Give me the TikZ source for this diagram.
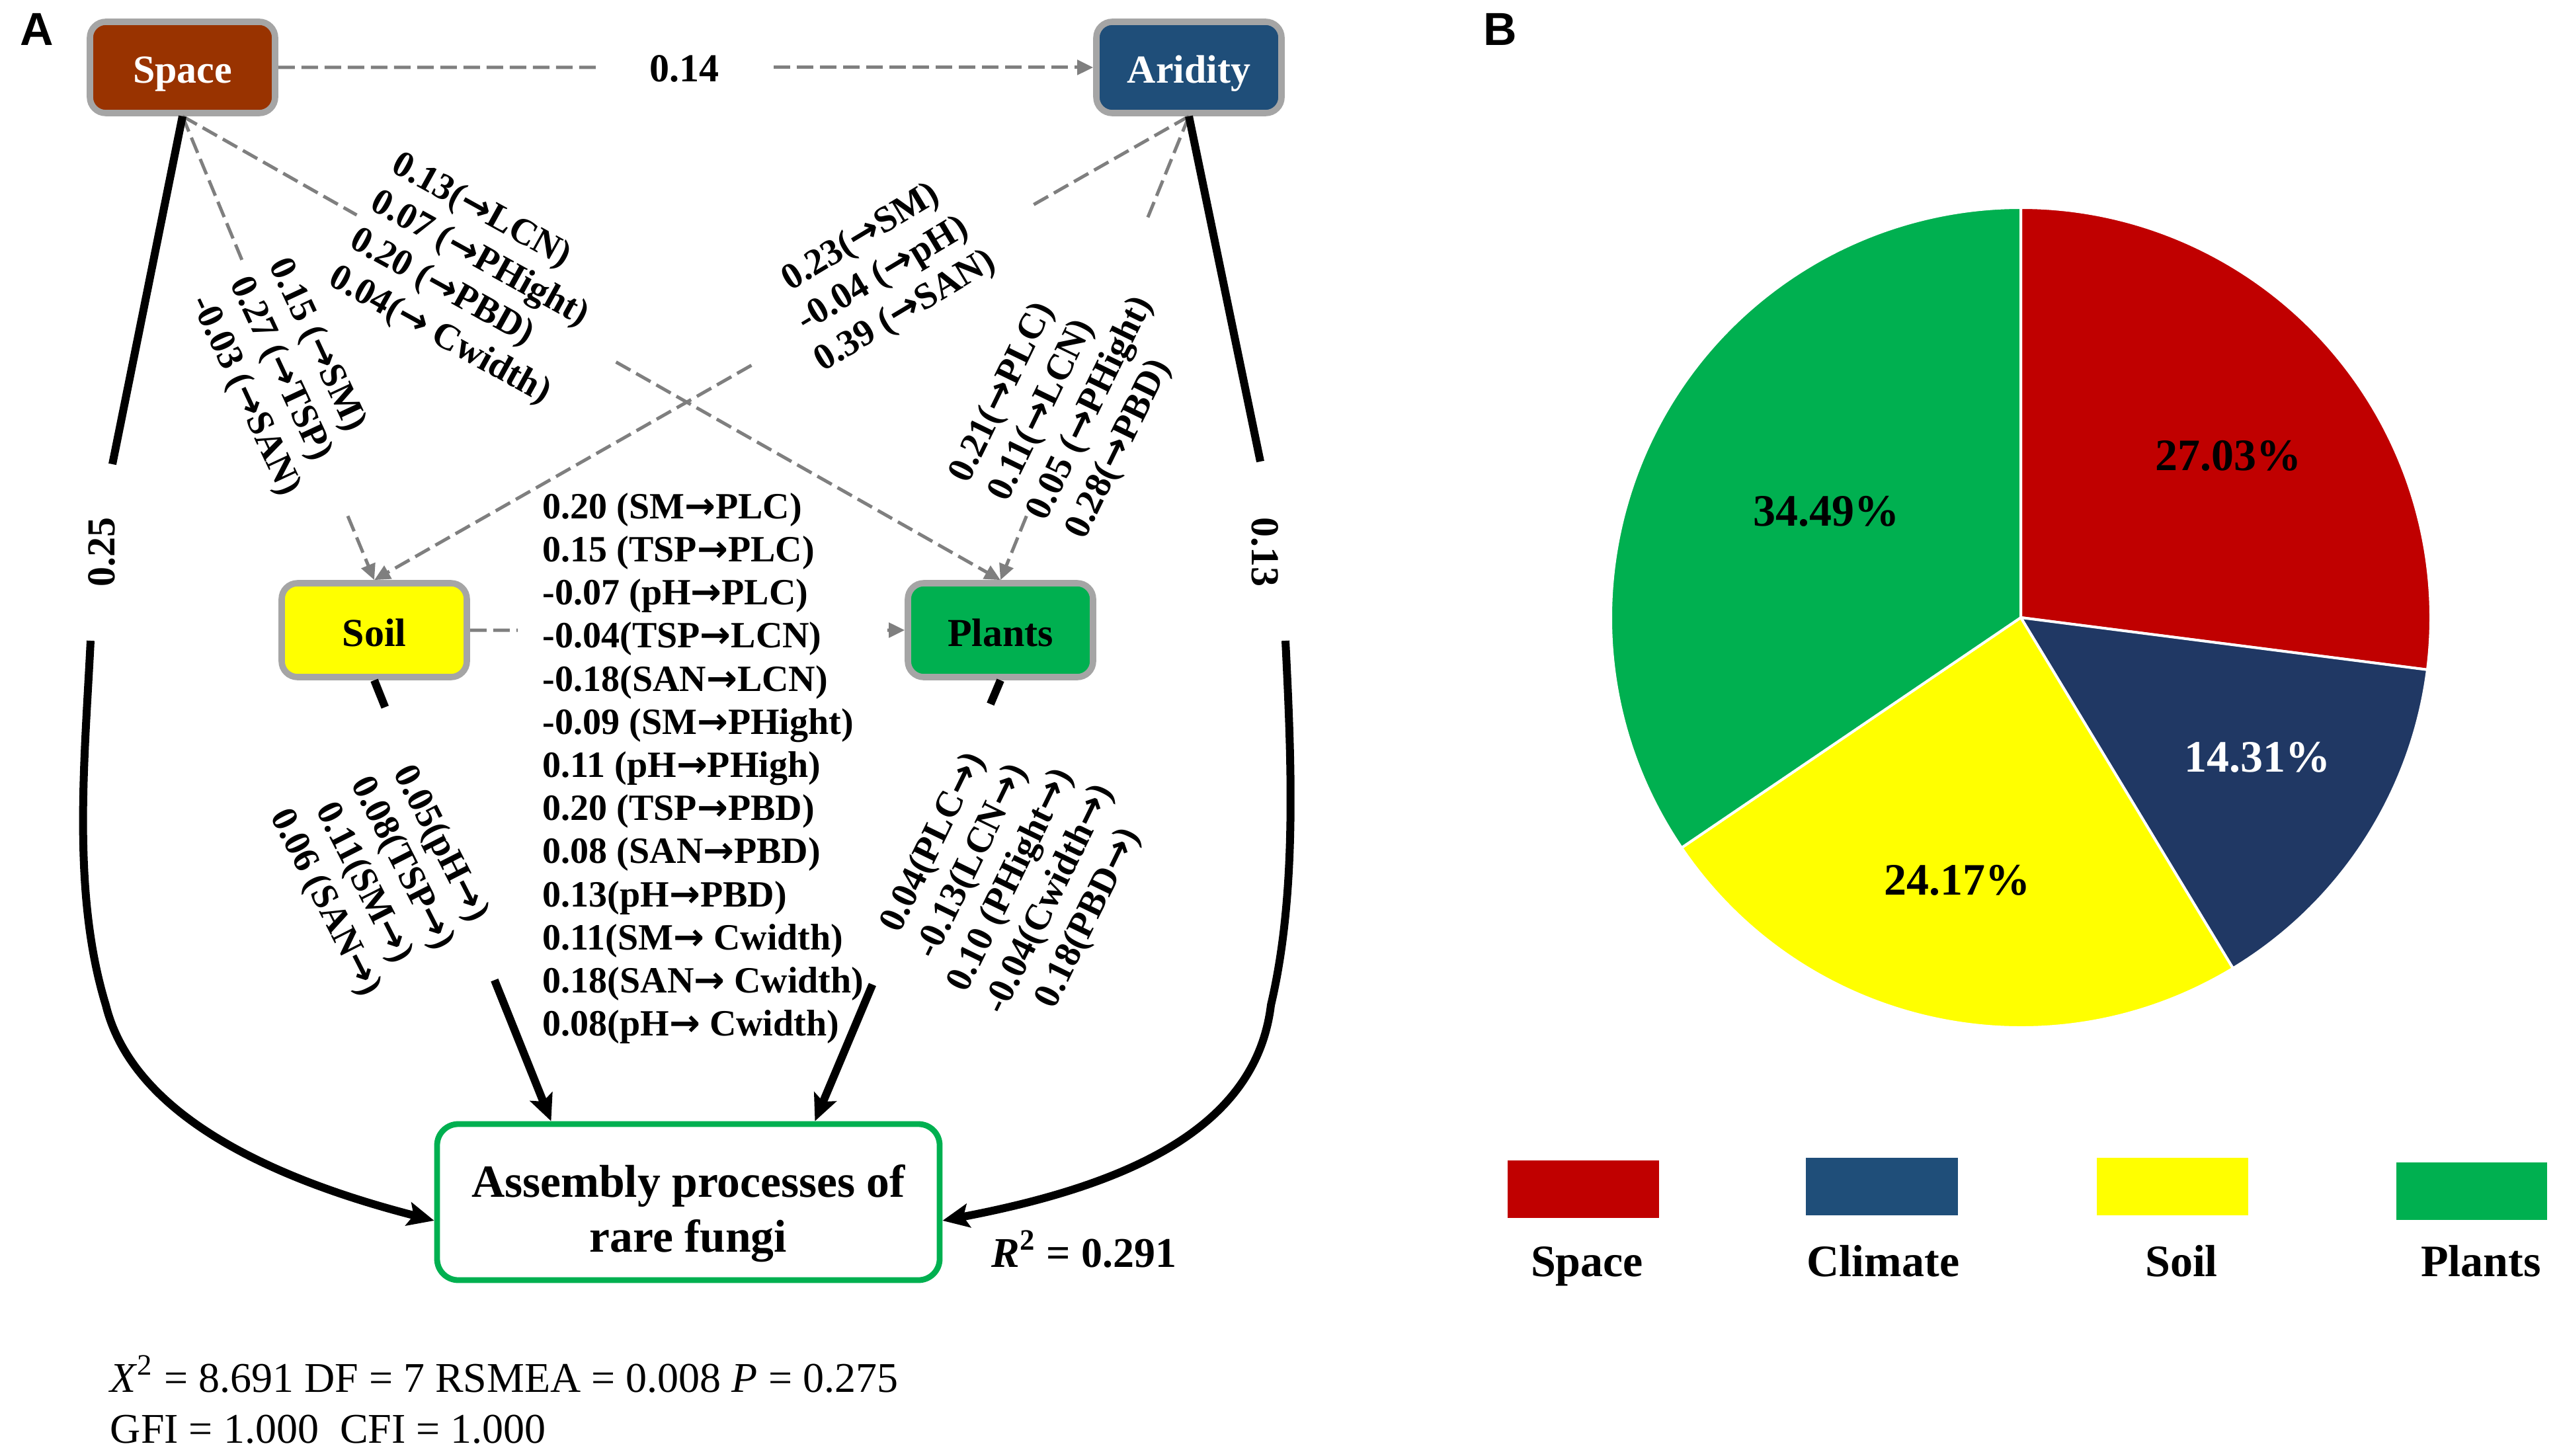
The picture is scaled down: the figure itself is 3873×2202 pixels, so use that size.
\documentclass[tikz,border=0pt]{standalone}
\usepackage{fontspec}
\setmainfont{Liberation Serif}
\newfontfamily\panelfont{Liberation Sans}
\newfontfamily\arrowfont{DejaVu Sans}
\newcommand{\rarr}{{\arrowfont\bfseries →}}
\usetikzlibrary{arrows.meta,calc}
\definecolor{spacebrown}{HTML}{993300}
\definecolor{aridblue}{HTML}{1F4E79}
\definecolor{soilyellow}{HTML}{FFFF00}
\definecolor{plantgreen}{HTML}{00B050}
\definecolor{boxgray}{HTML}{A5A5A5}
\definecolor{dashgray}{HTML}{7F7F7F}
\definecolor{piered}{HTML}{C00000}
\definecolor{pieblue}{HTML}{203864}
\definecolor{legblue}{HTML}{1F4E79}
\tikzset{
  factor/.style={draw=boxgray, line width=2.4pt, rounded corners=6pt, minimum width=70pt,
    minimum height=34.5pt, inner sep=0pt, text height=12pt, text depth=0pt,
    font=\fontsize{15}{18}\selectfont\bfseries},
  dashline/.style={draw=dashgray, line width=1.25pt, dash pattern=on 6.25pt off 2.5pt},
  dasharrow/.style={dashline, -{Triangle[length=6pt,width=5.5pt]}},
  thickline/.style={draw=black, line width=3pt},
  thickarrow/.style={thickline, -{Stealth[length=10pt,width=9pt,inset=2pt]}},
  coef/.style={inner sep=0pt, font=\fontsize{14}{16.3}\selectfont\bfseries},
  bigcoef/.style={inner sep=0pt, font=\fontsize{15}{18}\selectfont\bfseries},
  pct/.style={inner sep=0pt, font=\fontsize{17}{20}\selectfont\bfseries},
  legtext/.style={inner sep=0pt, anchor=base, font=\fontsize{17}{20}\selectfont\bfseries},
  fittext/.style={inner sep=0pt, anchor=base west, font=\fontsize{16}{19}\selectfont\mdseries},
  panel/.style={inner sep=0pt, font=\panelfont\bfseries\fontsize{17.5}{20}\selectfont}
}
\begin{document}
\begin{tikzpicture}[x=0.25pt, y=-0.25pt]
\useasboundingbox (0,0) rectangle (3873,2202);

% ---------------- Panel A ----------------
\node[panel] (pa) at (56,44) {A};

\node[factor, fill=spacebrown, text=white] (space) at (276,102) {Space};
\node[factor, fill=aridblue, text=white] (arid) at (1798,102) {Aridity};
\node[factor, fill=soilyellow, minimum height=35.5pt] (soil) at (566,953) {Soil};
\node[factor, fill=plantgreen, minimum height=35.5pt] (plants) at (1513,953) {Plants};
\node[draw=plantgreen, line width=2.2pt, rounded corners=8pt, minimum width=190pt,
  minimum height=59pt, align=center, inner sep=0pt,
  font=\fontsize{17.4}{20.75}\selectfont\bfseries] (asm) at (1041,1818)
  {\rule{0pt}{20.6pt}Assembly processes of\\rare fungi};

\coordinate (asmL) at ($(asm.west)+(0,28)$);
\coordinate (asmR) at ($(asm.east)+(0,28)$);
\coordinate (asmA) at ($(asm.north west)!0.23!(asm.north east)$);
\coordinate (asmB) at ($(asm.north west)!0.749!(asm.north east)$);

% dashed paths
\draw[dashline] (space.east) -- ($(space.east)!0.391!(arid.west)$);
\draw[dasharrow] ($(space.east)!0.608!(arid.west)$) -- (arid.west);

\draw[dashline] (space.south) -- ($(space.south)!0.213!(plants.north)$);
\draw[dasharrow] ($(space.south)!0.53!(plants.north)$) -- (plants.north);

\draw[dashline] (space.south) -- ($(space.south)!0.315!(soil.north)$);
\draw[dasharrow] ($(space.south)!0.862!(soil.north)$) -- (soil.north);

\draw[dashline] (arid.south) -- ($(arid.south)!0.195!(soil.north)$);
\draw[dasharrow] ($(arid.south)!0.537!(soil.north)$) -- (soil.north);

\draw[dashline] (arid.south) -- ($(arid.south)!0.224!(plants.north)$);
\draw[dasharrow] ($(arid.south)!0.862!(plants.north)$) -- (plants.north);

\draw[dashline] (soil.east) -- ($(soil.east)!0.11!(plants.west)$);
\draw[dasharrow] ($(soil.east)!0.96!(plants.west)$) -- (plants.west);

% thick paths
\coordinate (L0) at (170,702);
\coordinate (L1) at (137,969);
\coordinate (L2) at (160,1520);
\draw[thickline] (space.south) -- (L0);
\draw[thickarrow] (L1) .. controls (128,1150) and (108,1350) .. (L2)
  .. controls (200,1682) and (400,1780) .. (asmL);

\coordinate (R0) at (1906,698);
\coordinate (R1) at (1944,969);
\coordinate (R2) at (1922,1520);
\draw[thickline] (arid.south) -- (R0);
\draw[thickarrow] (R1) .. controls (1953,1150) and (1962,1350) .. (R2)
  .. controls (1900,1700) and (1720,1790) .. (asmR);

\draw[thickline] (soil.south) -- ($(soil.south)!0.061!(asmA)$);
\draw[thickarrow] ($(soil.south)!0.68!(asmA)$) -- (asmA);
\draw[thickline] (plants.south) -- ($(plants.south)!0.054!(asmB)$);
\draw[thickarrow] ($(plants.south)!0.69!(asmB)$) -- (asmB);

% labels
\node[bigcoef] (l14) at (1035,104) {0.14};
\node[bigcoef, rotate=90] (l25) at (154,835) {0.25};
\node[bigcoef, rotate=-90] (l13) at (1913,835) {0.13};

\node[coef, rotate=-29, align=left] (lsp) at (712,423)
  {0.13(\rarr LCN)\\0.07 (\rarr PHight)\\0.20 (\rarr PBD)\\0.04(\rarr\ Cwidth)};
\node[coef, rotate=-65, align=left] (lss) at (429,571)
  {0.15 (\rarr SM)\\0.27 (\rarr TSP)\\-0.03 (\rarr SAN)};
\node[coef, rotate=31, align=center] (las) at (1336,416)
  {0.23(\rarr SM)\\-0.04 (\rarr pH)\\0.39 (\rarr SAN)};
\node[coef, rotate=64, align=left] (lap) at (1621,604)
  {0.21(\rarr PLC)\\0.11(\rarr LCN)\\0.05 (\rarr PHight)\\0.28(\rarr PBD)};
\node[coef, rotate=-63, align=center] (lsl) at (578,1321)
  {0.05(pH\rarr)\\0.08(TSP\rarr)\\0.11(SM\rarr)\\0.06 (SAN\rarr)};
\node[coef, rotate=64, align=center] (lpl) at (1530,1332)
  {0.04(PLC\rarr)\\-0.13(LCN\rarr)\\0.10 (PHight\rarr)\\-0.04(Cwidth\rarr)\\0.18(PBD\rarr)};
\node[coef, anchor=west, align=left] (lmid) at (820,1162)
  {0.20 (SM\rarr PLC)\\0.15 (TSP\rarr PLC)\\-0.07 (pH\rarr PLC)\\-0.04(TSP\rarr LCN)\\-0.18(SAN\rarr LCN)\\%
   -0.09 (SM\rarr PHight)\\0.11 (pH\rarr PHigh)\\0.20 (TSP\rarr PBD)\\0.08 (SAN\rarr PBD)\\0.13(pH\rarr PBD)\\%
   0.11(SM\rarr\ Cwidth)\\0.18(SAN\rarr\ Cwidth)\\0.08(pH\rarr\ Cwidth)};

\node[inner sep=0pt, anchor=base west, font=\fontsize{16}{19}\selectfont\bfseries] (r2) at (1499,1916)
  {\textit{R}\textsuperscript{2} = 0.291};
\node[fittext] (fit1) at (166,2105)
  {\textit{X}\textsuperscript{2} = 8.691 DF = 7 RSMEA = 0.008 \textit{P} = 0.275};
\node[fittext] (fit2) at (166,2182) {GFI = 1.000 \ CFI = 1.000};

% ---------------- Panel B ----------------
\node[panel] (pb) at (2269,44) {B};

\begin{scope}[shift={(3056,934)}, x=0.25pt, y=0.25pt]
  \filldraw[fill=piered, draw=white, line width=1pt] (0,0) -- (90:620)
    arc[start angle=90, end angle=-7.31, radius=620] -- cycle;
  \filldraw[fill=pieblue, draw=white, line width=1pt] (0,0) -- (-7.31:620)
    arc[start angle=-7.31, end angle=-58.83, radius=620] -- cycle;
  \filldraw[fill=soilyellow, draw=white, line width=1pt] (0,0) -- (-58.83:620)
    arc[start angle=-58.83, end angle=-145.84, radius=620] -- cycle;
  \filldraw[fill=plantgreen, draw=white, line width=1pt] (0,0) -- (-145.84:620)
    arc[start angle=-145.84, end angle=-270, radius=620] -- cycle;
\end{scope}

\node[pct] (p1) at (3370,689) {27.03\%};
\node[pct, text=white] (p2) at (3414,1145) {14.31\%};
\node[pct] (p3) at (2960,1331) {24.17\%};
\node[pct] (p4) at (2762,773) {34.49\%};

\fill[piered] (2280,1755) rectangle (2509,1842);
\fill[legblue] (2731,1751) rectangle (2961,1838);
\fill[soilyellow] (3171,1751) rectangle (3400,1838);
\fill[plantgreen] (3624,1758) rectangle (3852,1845);

\node[legtext] (k1) at (2400,1930) {Space};
\node[legtext] (k2) at (2848,1930) {Climate};
\node[legtext] (k3) at (3299,1930) {Soil};
\node[legtext] (k4) at (3752,1930) {Plants};
\end{tikzpicture}
\end{document}
